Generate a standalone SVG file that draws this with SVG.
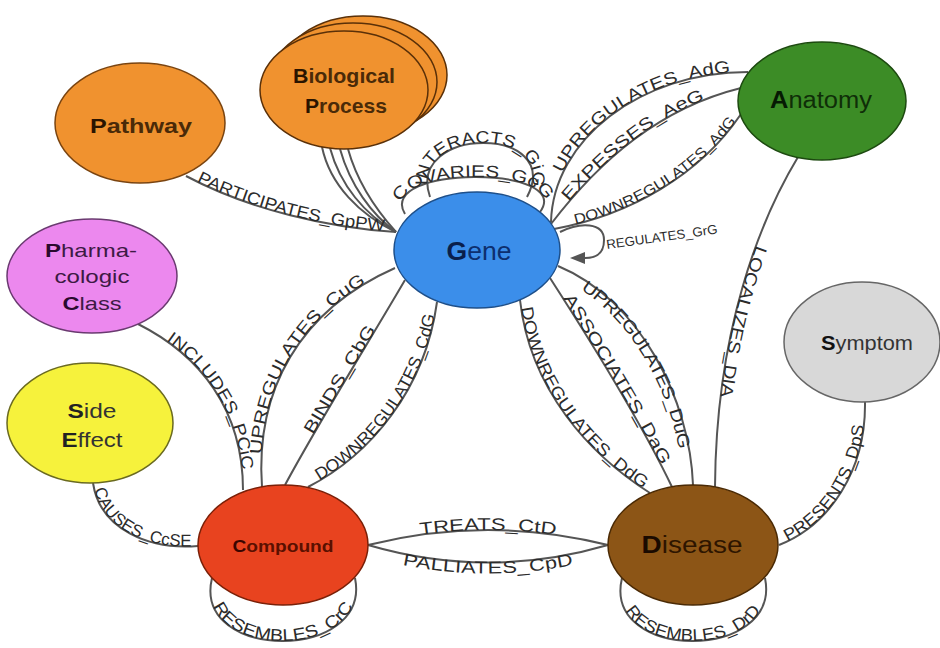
<svg xmlns="http://www.w3.org/2000/svg" width="940" height="648" viewBox="0 0 940 648">
<defs>
<style>
.e{fill:none;stroke:#555;stroke-width:2}
.l{font-family:'Liberation Sans',Arial,sans-serif;font-size:17px;fill:#2b2b2b;text-anchor:middle}
.n{font-family:'Liberation Sans',Arial,sans-serif;text-anchor:middle}
.b{font-weight:bold}
</style>
<marker id="arr" markerUnits="userSpaceOnUse" markerWidth="16" markerHeight="12" refX="0" refY="6" orient="auto"><path d="M0,0 L15,6 L0,12 z" fill="#555"/></marker>
</defs>
<rect width="940" height="648" fill="#fff"/>
<g id="connectors">
<path id="pGpPW" class="e" d="M186,176 C250,210 330,228 396,232"/>
<path class="e" d="M322,147 C330,185 360,215 396,232"/>
<path class="e" d="M330,148 C340,185 365,215 396,232"/>
<path class="e" d="M340,149 C350,185 372,215 396,232"/>
<path class="e" d="M348,149 C358,185 378,212 396,232"/>
<path id="pGiG" class="e" d="M430,197 C405,125 565,125 527,197"/>
<path id="pGcG" class="e" d="M405,214 C375,165 575,165 540,212"/>
<path id="pAuG" class="e" d="M551,222 C553,140 640,72 748,72"/>
<path id="pAeG" class="e" d="M551,224 C600,160 660,108 741,88"/>
<path id="pAdG" class="e" d="M554,229 C630,215 700,175 741,114"/>
<path class="e" d="M560,232 C580,222 604,222 604,240 C604,255 595,258 585,258" marker-end="url(#arr)"/>
<path id="pDlA" class="e" d="M798,157 C760,220 716,330 715,487"/>
<path id="pDpS" class="e" d="M779,545 C830,525 866,470 865,402"/>
<path id="pDuG" class="e" d="M558,266 C640,300 690,400 693,485"/>
<path id="pDaG" class="e" d="M550,278 C590,340 640,420 672,487"/>
<path id="pDdG" class="e" d="M520,300 C530,390 590,455 650,493"/>
<path id="pCuG" class="e" d="M262,487 C255,390 300,310 395,268"/>
<path id="pCbG" class="e" d="M285,485 C320,420 370,340 405,280"/>
<path id="pCdG" class="e" d="M308,487 C370,455 425,390 437,302"/>
<path id="pPCiC" class="e" d="M138,324 C200,355 243,410 243,490"/>
<path id="pCcSE" class="e" d="M93,483 C100,530 150,550 198,546"/>
<path id="pCtD" class="e" d="M368,545 Q488,515 608,545"/>
<path id="pCpD" class="e" d="M368,545 Q488,580 608,545"/>
<path id="pCrC" class="e" d="M212,578 C192,662 372,662 355,578"/>
<path id="pDrD" class="e" d="M622,578 C602,662 782,662 765,578"/>
<text class="l"><textPath href="#pGpPW" startOffset="50%" textLength="195" lengthAdjust="spacingAndGlyphs">PARTICIPATES_GpPW</textPath></text>
<text class="l"><textPath href="#pGiG" startOffset="50%" textLength="155" lengthAdjust="spacingAndGlyphs">INTERACTS_GiG</textPath></text>
<text class="l"><textPath href="#pGcG" startOffset="50%" textLength="160" lengthAdjust="spacingAndGlyphs">COVARIES_GcG</textPath></text>
<text class="l"><textPath href="#pAuG" startOffset="56%" textLength="205" lengthAdjust="spacingAndGlyphs">UPREGULATES_AdG</textPath></text>
<text class="l"><textPath href="#pAeG" startOffset="48%" textLength="172" lengthAdjust="spacingAndGlyphs">EXPESSES_AeG</textPath></text>
<text class="l" style="font-size:14.5px"><textPath href="#pAdG" startOffset="53%" textLength="195" lengthAdjust="spacingAndGlyphs">DOWNREGULATES_AdG</textPath></text>
<text class="l" style="font-size:13px;text-anchor:start" transform="rotate(-8 607 249)" x="607" y="249" textLength="112" lengthAdjust="spacingAndGlyphs">REGULATES_GrG</text>
<text class="l"><textPath href="#pDlA" startOffset="51%" textLength="156" lengthAdjust="spacingAndGlyphs">LOCALIZES_DlA</textPath></text>
<text class="l"><textPath href="#pDpS" startOffset="46%" textLength="145" lengthAdjust="spacingAndGlyphs">PRESENTS_DpS</textPath></text>
<text class="l" dy="10"><textPath href="#pDuG" startOffset="49%" textLength="200" lengthAdjust="spacingAndGlyphs">UPREGULATES_DuG</textPath></text>
<text class="l"><textPath href="#pDaG" startOffset="50%" textLength="194" lengthAdjust="spacingAndGlyphs">ASSOCIATES_DaG</textPath></text>
<text class="l"><textPath href="#pDdG" startOffset="50%" textLength="225" lengthAdjust="spacingAndGlyphs">DOWNREGULATES_DdG</textPath></text>
<text class="l"><textPath href="#pCuG" startOffset="50%" textLength="210" lengthAdjust="spacingAndGlyphs">UPREGULATES_CuG</textPath></text>
<text class="l"><textPath href="#pCbG" startOffset="50%" textLength="123" lengthAdjust="spacingAndGlyphs">BINDS_CbG</textPath></text>
<text class="l"><textPath href="#pCdG" startOffset="50%" textLength="208" lengthAdjust="spacingAndGlyphs">DOWNREGULATES_CdG</textPath></text>
<text class="l"><textPath href="#pPCiC" startOffset="53%" textLength="155" lengthAdjust="spacingAndGlyphs">INCLUDES_PCiC</textPath></text>
<text class="l"><textPath href="#pCcSE" startOffset="50%" textLength="122" lengthAdjust="spacingAndGlyphs">CAUSES_CcSE</textPath></text>
<text class="l"><textPath href="#pCtD" startOffset="50%" textLength="136" lengthAdjust="spacingAndGlyphs">TREATS_CtD</textPath></text>
<text class="l" dy="11"><textPath href="#pCpD" startOffset="50%" textLength="168" lengthAdjust="spacingAndGlyphs">PALLIATES_CpD</textPath></text>
<text class="l"><textPath href="#pCrC" startOffset="50%" textLength="165" lengthAdjust="spacingAndGlyphs">RESEMBLES_CrC</textPath></text>
<text class="l"><textPath href="#pDrD" startOffset="50%" textLength="155" lengthAdjust="spacingAndGlyphs">RESEMBLES_DrD</textPath></text>
</g>
<g id="pathway">
<ellipse cx="140" cy="123" rx="85" ry="60" fill="#f0922f" stroke="#7a4410" stroke-width="1.5"/>
<text class="n b" x="141" y="132.5" font-size="21" textLength="102" lengthAdjust="spacingAndGlyphs" fill="#4a2a08"><tspan fill="#2a1400">P</tspan>athway</text>
</g>
<g id="biological-process">
<ellipse cx="363" cy="75" rx="84" ry="59" fill="#f0922f" stroke="#5a3008" stroke-width="1.5"/>
<ellipse cx="353" cy="82" rx="84" ry="59" fill="#f0922f" stroke="#5a3008" stroke-width="1.5"/>
<ellipse cx="344" cy="90" rx="84" ry="59" fill="#f0922f" stroke="#5a3008" stroke-width="1.5"/>
<text class="n b" x="344" y="83" font-size="21" textLength="102" lengthAdjust="spacingAndGlyphs" fill="#4a2a08"><tspan fill="#2a1400">B</tspan>iological</text>
<text class="n b" x="346" y="113" font-size="21" textLength="82" lengthAdjust="spacingAndGlyphs" fill="#4a2a08"><tspan fill="#2a1400">P</tspan>rocess</text>
</g>
<g id="gene">
<ellipse cx="477" cy="250" rx="83" ry="58" fill="#3b8eea" stroke="#1d4f8a" stroke-width="1.5"/>
<text class="n" x="479" y="260" font-size="26" textLength="65" lengthAdjust="spacingAndGlyphs" fill="#0d2f6e"><tspan class="b" fill="#0a1f4a">G</tspan>ene</text>
</g>
<g id="anatomy">
<ellipse cx="822" cy="101" rx="84" ry="59" fill="#3c8c26" stroke="#1d4a10" stroke-width="1.5"/>
<text class="n" x="821" y="108" font-size="23" textLength="102" lengthAdjust="spacingAndGlyphs" fill="#0f2e08"><tspan class="b" fill="#061a03">A</tspan>natomy</text>
</g>
<g id="pharmacologic-class">
<ellipse cx="92" cy="276" rx="85" ry="57" fill="#ec88ee" stroke="#6a3a70" stroke-width="1.5"/>
<text class="n" x="91" y="257" font-size="19" textLength="92" lengthAdjust="spacingAndGlyphs" fill="#3d1a44"><tspan class="b" fill="#2a0a2e">P</tspan>harma-</text>
<text class="n" x="92" y="283" font-size="19" textLength="75" lengthAdjust="spacingAndGlyphs" fill="#3d1a44">cologic</text>
<text class="n" x="92" y="310" font-size="19" textLength="59" lengthAdjust="spacingAndGlyphs" fill="#3d1a44"><tspan class="b" fill="#2a0a2e">C</tspan>lass</text>
</g>
<g id="side-effect">
<ellipse cx="90" cy="423" rx="83" ry="60" fill="#f6f23c" stroke="#6a6a20" stroke-width="1.5"/>
<text class="n" x="92" y="418" font-size="20" textLength="49" lengthAdjust="spacingAndGlyphs" fill="#333"><tspan class="b" fill="#222">S</tspan>ide</text>
<text class="n" x="92" y="447" font-size="20" textLength="61" lengthAdjust="spacingAndGlyphs" fill="#333"><tspan class="b" fill="#222">E</tspan>ffect</text>
</g>
<g id="symptom">
<ellipse cx="862" cy="342" rx="78" ry="60" fill="#d8d8d8" stroke="#666" stroke-width="1.5"/>
<text class="n" x="867" y="350" font-size="21" textLength="92" lengthAdjust="spacingAndGlyphs" fill="#333"><tspan class="b" fill="#111">S</tspan>ymptom</text>
</g>
<g id="compound">
<ellipse cx="283" cy="545" rx="85" ry="60" fill="#e8431f" stroke="#7a2008" stroke-width="1.5"/>
<text class="n b" x="283" y="552" font-size="17" textLength="101" lengthAdjust="spacingAndGlyphs" fill="#5a1000"><tspan fill="#3a0500">C</tspan>ompound</text>
</g>
<g id="disease">
<ellipse cx="693" cy="545" rx="85" ry="60" fill="#8c5516" stroke="#4a2a05" stroke-width="1.5"/>
<text class="n" x="692" y="553" font-size="23" textLength="101" lengthAdjust="spacingAndGlyphs" fill="#2e1500"><tspan class="b" fill="#1a0a00">D</tspan>isease</text>
</g>
</svg>
